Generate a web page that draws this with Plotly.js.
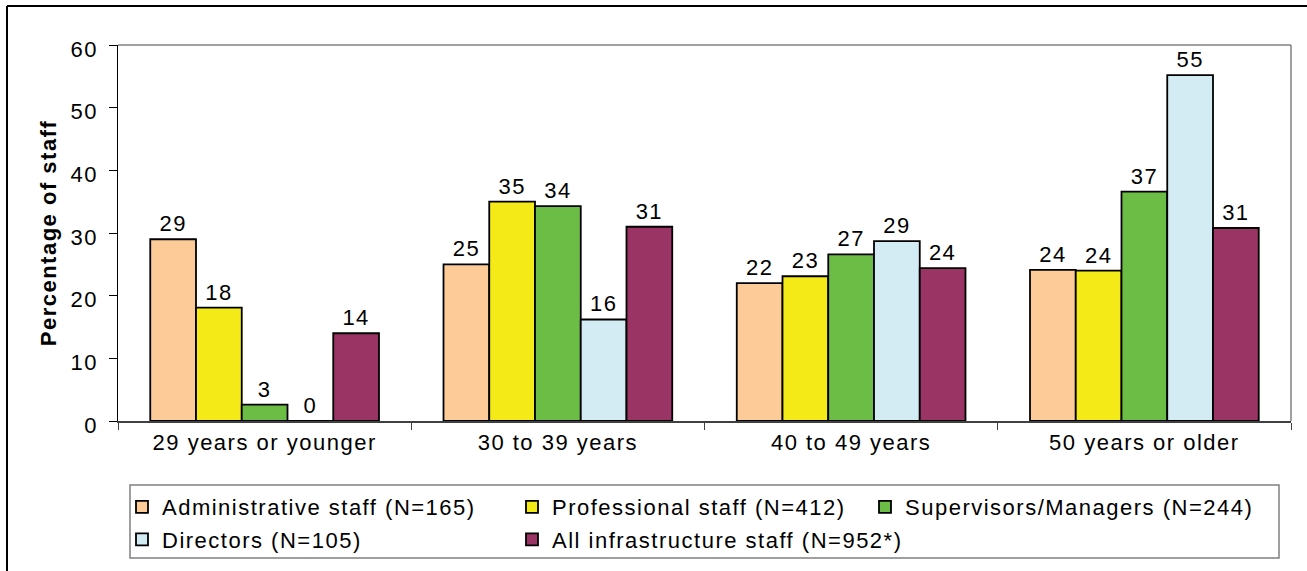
<!DOCTYPE html>
<html>
<head>
<meta charset="utf-8">
<script src="https://cdn.plot.ly/plotly-3.0.1.min.js"></script>
<style>
  html, body { margin: 0; padding: 0; background: #ffffff; }
  #chart { width: 1307px; height: 571px; }
  svg text { letter-spacing: 1.5px; }
</style>
</head>
<body>
<div id="chart"></div>
<script>
// ---- data ----
const categories = ["29 years or younger", "30 to 39 years", "40 to 49 years", "50 years or older"];
const seriesNames = [
  "Administrative staff (N=165)",
  "Professional staff (N=412)",
  "Supervisors/Managers (N=244)",
  "Directors (N=105)",
  "All infrastructure staff (N=952*)"
];
const adminValues        = [29.0, 25.0, 22.0, 24.1];
const professionalValues = [18.1, 35.0, 23.1, 24.0];
const supervisorValues   = [2.6, 34.3, 26.6, 36.6];
const directorValues     = [0, 16.2, 28.7, 55.2];
const allStaffValues     = [14.0, 31.0, 24.4, 30.8];
const yTickValues = [0, 10, 20, 30, 40, 50, 60];

// ---- styling ----
const colors = ["#FDCB98", "#F4EA17", "#6CBD45", "#D3EBF2", "#993464"];
const legendFor = ["legend", "legend2", "legend3", "legend", "legend2"];
const allValues = [adminValues, professionalValues, supervisorValues, directorValues, allStaffValues];
const FONT = "Liberation Sans, Arial, sans-serif";
const FS = 22;

const traces = allValues.map((vals, i) => ({
  type: "bar",
  name: seriesNames[i],
  x: categories,
  y: vals,
  marker: { color: colors[i], line: { color: "#000000", width: 1.8 } },
  texttemplate: "%{y:.0f}",
  textposition: "outside",
  textfont: { family: FONT, size: FS, color: "#000000" },
  cliponaxis: false,
  legend: legendFor[i],
  legendgroup: "g" + i,
  hoverinfo: "x+y+name"
}));

// plot area in pixels: x 118..1291, y 45..421
const L = 118, R = 1291, T = 45, B = 421;
const px = v => (v - L) / (R - L);
const py = v => (B - v) / (B - T);

const legendCommon = {
  orientation: "v",
  bgcolor: "rgba(0,0,0,0)",
  borderwidth: 0,
  font: { family: FONT, size: FS, color: "#000000" },
  xanchor: "left",
  yanchor: "top",
  traceorder: "grouped",
  tracegroupgap: 1,
  itemwidth: 30
};

const layout = {
  width: 1307,
  height: 571,
  margin: { l: L, r: 1307 - R, t: T, b: 571 - B, pad: 0, autoexpand: false },
  paper_bgcolor: "#ffffff",
  plot_bgcolor: "#ffffff",
  font: { family: FONT, size: FS, color: "#000000" },
  barmode: "group",
  bargap: 0.22,
  bargroupgap: 0,
  showlegend: true,
  legend:  Object.assign({}, legendCommon, { x: px(122), y: py(486) }),
  legend2: Object.assign({}, legendCommon, { x: px(512), y: py(486) }),
  legend3: Object.assign({}, legendCommon, { x: px(865), y: py(486) }),
  xaxis: {
    type: "category",
    showgrid: false,
    showline: true,
    linecolor: "#404040",
    linewidth: 1.5,
    ticks: "outside",
    tickson: "boundaries",
    ticklen: 7,
    tickcolor: "#404040",
    tickwidth: 1,
    ticklabelstandoff: 1,
    tickfont: { family: FONT, size: FS, color: "#000000" },
    zeroline: false,
    fixedrange: true
  },
  yaxis: {
    range: [0, 60],
    tickvals: yTickValues,
    ticktext: yTickValues.map(String),
    showgrid: false,
    showline: true,
    linecolor: "#000000",
    linewidth: 1.5,
    ticks: "outside",
    ticklen: 8,
    tickcolor: "#000000",
    tickwidth: 1,
    ticklabelstandoff: 6,
    ticklabelshift: 4,
    tickfont: { family: FONT, size: FS, color: "#000000" },
    zeroline: false,
    fixedrange: true,
    title: {
      text: "Percentage of staff",
      font: { family: FONT, size: FS, color: "#000000", weight: "bold" },
      standoff: 8
    }
  },
  shapes: [
    // gray plot-area frame (top and right)
    { type: "line", xref: "paper", yref: "paper", x0: 0, x1: 1, y0: 1, y1: 1,
      line: { color: "#808080", width: 1.5 }, layer: "below" },
    { type: "line", xref: "paper", yref: "paper", x0: 1, x1: 1, y0: 0, y1: 1,
      line: { color: "#808080", width: 1.5 }, layer: "below" },
    // legend box
    { type: "rect", xref: "paper", yref: "paper",
      x0: px(130), x1: px(1279), y0: py(558), y1: py(485),
      line: { color: "#808080", width: 1.5 }, fillcolor: "rgba(0,0,0,0)" },
    // outer chart frame (left and top edges visible)
    { type: "line", xref: "paper", yref: "paper", x0: px(7), x1: px(7), y0: py(6), y1: py(580),
      line: { color: "#000000", width: 2 } },
    { type: "line", xref: "paper", yref: "paper", x0: px(7), x1: px(1320), y0: py(6), y1: py(6),
      line: { color: "#000000", width: 2 } }
  ]
};

Plotly.newPlot("chart", traces, layout, { displayModeBar: false, staticPlot: true });
</script>
</body>
</html>
